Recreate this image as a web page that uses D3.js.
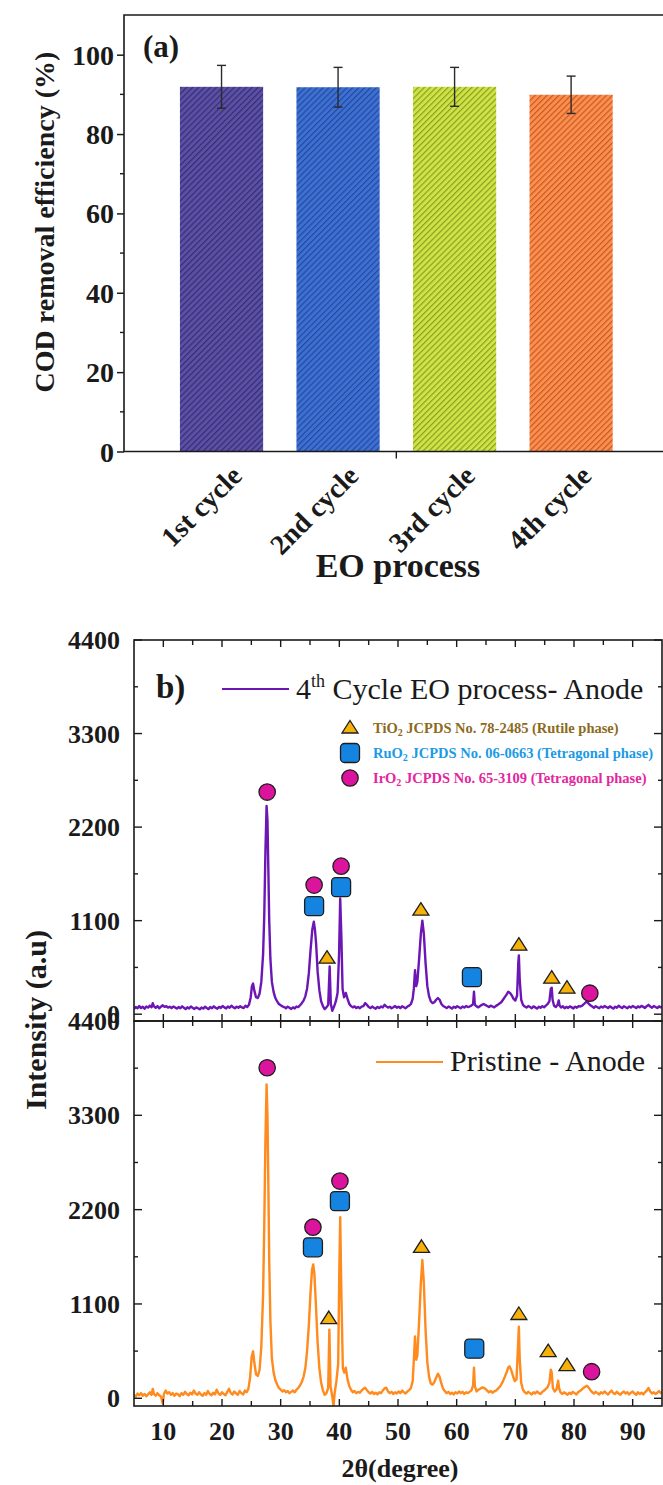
<!DOCTYPE html>
<html><head><meta charset="utf-8">
<script src="https://cdn.jsdelivr.net/npm/d3@7"></script>
<style>html,body{margin:0;padding:0;background:#fff}svg{display:block}</style>
</head><body>
<svg id="fig" width="663" height="1485"></svg>
<script>
// ---------- (a) COD removal over repeated EO cycles ----------
const cycleLabels = ["1st cycle", "2nd cycle", "3rd cycle", "4th cycle"];
const codRemoval = [91.9, 91.8, 91.9, 89.9];
const codError = [5.4, 5.0, 4.9, 4.7];
const barColors = ["#5b4fa6", "#3e70d4", "#cfe247", "#ff8d4e"];
const hatchColors = ["#302768", "#1d4392", "#7d9417", "#b5531c"];
const codTicks = [0, 20, 40, 60, 80, 100];
const codMinorTicks = [10, 30, 50, 70, 90];

// ---------- (b) XRD patterns: [2θ, intensity] ----------
const angleTicks = [10, 20, 30, 40, 50, 60, 70, 80, 90];
const angleMinorTicks = [15, 25, 35, 45, 55, 65, 75, 85];
const intensityTicks = [0, 1100, 2200, 3300, 4400];
const intensityMinorTicks = [550, 1650, 2750, 3850];

const cycle4Pattern = [
 [5.0,60],[5.3,85],[5.6,70],[5.9,95],[6.2,72],[6.5,88],[6.8,64],[7.1,90],[7.4,78],[7.7,100],[8.0,82],[8.2,130],[8.4,92],[8.7,75],[9.0,96],[9.3,70],[9.6,88],[9.9,105],
 [10.2,86],[10.5,94],[10.8,78],[11.1,88],[11.4,72],[11.7,90],[12.0,80],[12.3,66],[12.6,84],[12.9,70],[13.2,92],[13.5,76],[13.8,60],[14.1,82],[14.4,68],[14.7,90],
 [15.0,74],[15.3,62],[15.6,80],[15.9,70],[16.2,58],[16.5,78],[16.8,66],[17.1,88],[17.4,72],[17.7,60],[18.0,84],[18.3,70],[18.6,92],[18.9,76],[19.2,64],[19.5,86],
 [19.8,74],[20.1,96],[20.4,80],[20.7,68],[21.0,90],[21.3,76],[21.6,100],[21.9,82],[22.2,70],[22.5,88],[22.8,76],[23.1,94],[23.4,80],[23.7,72],[24.0,98],[24.3,84],
 [24.6,110],[24.9,200],[25.1,330],[25.3,360],[25.5,280],[25.8,200],[26.1,190],[26.4,240],[26.7,380],[27.0,700],[27.2,1150],[27.4,1900],[27.6,2450],[27.75,2280],
 [27.9,1700],[28.05,1100],[28.25,650],[28.5,380],[28.8,260],[29.1,190],[29.4,150],[29.7,120],[30.0,105],[30.3,92],[30.6,84],[30.9,70],[31.2,88],[31.5,76],
 [31.8,62],[32.1,80],[32.4,68],[32.7,90],[33.0,84],[33.3,105],[33.6,130],[33.9,160],[34.2,210],[34.5,300],[34.8,480],[35.1,760],[35.4,1000],[35.65,1088],
 [35.85,990],[36.05,820],[36.3,500],[36.6,280],[36.9,150],[37.2,96],[37.5,60],[37.8,80],[38.1,110],[38.35,560],[38.55,120],[38.8,40],[39.1,90],[39.4,150],
 [39.7,250],[39.95,700],[40.15,1360],[40.35,900],[40.55,300],[40.8,200],[41.1,250],[41.4,180],[41.7,120],[42.0,95],[42.3,80],[42.6,92],[42.9,72],[43.2,86],
 [43.5,70],[43.8,90],[44.1,96],[44.4,130],[44.7,110],[45.0,84],[45.3,72],[45.6,90],[45.9,76],[46.2,64],[46.5,86],[46.8,72],[47.1,90],[47.4,80],[47.7,110],
 [48.0,92],[48.3,78],[48.6,88],[48.9,70],[49.2,82],[49.5,96],[49.8,76],[50.1,88],[50.4,72],[50.7,94],[51.0,82],[51.3,70],[51.6,90],[51.9,100],[52.2,120],
 [52.5,180],[52.7,300],[52.9,516],[53.1,330],[53.3,380],[53.6,650],[53.9,950],[54.15,1100],[54.4,950],[54.7,600],[55.0,330],[55.3,210],[55.6,150],[55.9,130],
 [56.2,140],[56.5,170],[56.8,190],[57.1,170],[57.4,120],[57.7,96],[58.0,84],[58.3,72],[58.6,90],[58.9,80],[59.2,66],[59.5,88],[59.8,76],[60.1,94],[60.4,82],
 [60.7,70],[61.0,90],[61.3,78],[61.6,96],[61.9,84],[62.2,90],[62.5,100],[62.8,120],[62.95,264],[63.1,110],[63.4,92],[63.7,80],[64.0,96],[64.3,110],[64.6,120],
 [64.9,108],[65.2,96],[65.5,84],[65.8,100],[66.1,90],[66.4,80],[66.7,98],[67.0,110],[67.3,126],[67.6,140],[67.9,170],[68.2,200],[68.5,230],[68.8,264],
 [69.1,250],[69.4,220],[69.7,180],[70.0,160],[70.3,220],[70.5,600],[70.6,692],[70.75,400],[71.0,170],[71.3,110],[71.6,90],[71.9,78],[72.2,96],[72.5,84],
 [72.8,70],[73.1,92],[73.4,80],[73.7,66],[74.0,88],[74.3,76],[74.6,94],[74.9,82],[75.2,100],[75.5,120],[75.8,150],[76.05,300],[76.2,311],[76.35,170],[76.6,100],
 [76.9,84],[77.2,110],[77.4,162],[77.55,100],[77.8,80],[78.1,94],[78.4,70],[78.7,86],[79.0,74],[79.3,92],[79.6,80],[79.9,68],[80.2,88],[80.5,76],[80.8,96],
 [81.1,90],[81.4,100],[81.7,120],[82.0,140],[82.2,147],[82.5,125],[82.8,104],[83.1,90],[83.4,76],[83.7,94],[84.0,82],[84.3,70],[84.6,90],[84.9,78],[85.2,96],
 [85.5,84],[85.8,72],[86.1,92],[86.4,80],[86.7,66],[87.0,88],[87.3,76],[87.6,100],[87.9,84],[88.2,72],[88.5,94],[88.8,82],[89.1,70],[89.4,90],[89.7,78],
 [90.0,96],[90.3,84],[90.6,72],[90.9,92],[91.2,80],[91.5,98],[91.8,86],[92.1,74],[92.4,94],[92.7,110],[93.0,90],[93.3,76],[93.6,96],[93.9,84],[94.2,72],
 [94.5,92],[94.8,80],[95.0,88]
];

const pristinePattern = [
 [5.0,40],[5.3,20],[5.6,55],[5.9,35],[6.2,60],[6.5,30],[6.8,50],[7.1,25],[7.4,45],[7.7,70],[8.0,40],[8.2,110],[8.4,50],[8.7,30],[9.0,60],[9.3,35],[9.6,20],
 [9.9,-60],[10.1,50],[10.4,90],[10.7,55],[11.0,70],[11.3,40],[11.6,60],[11.9,30],[12.2,55],[12.5,45],[12.8,25],[13.1,60],[13.4,40],[13.7,75],[14.0,50],
 [14.3,35],[14.6,65],[14.9,45],[15.2,90],[15.5,55],[15.8,40],[16.1,70],[16.4,45],[16.7,30],[17.0,60],[17.3,40],[17.6,85],[17.9,50],[18.2,35],[18.5,65],
 [18.8,45],[19.1,100],[19.4,55],[19.7,40],[20.0,70],[20.3,50],[20.6,35],[20.9,75],[21.2,110],[21.5,60],[21.8,45],[22.1,80],[22.4,55],[22.7,40],[23.0,85],
 [23.3,60],[23.6,45],[23.9,90],[24.2,70],[24.5,110],[24.8,250],[25.05,480],[25.3,548],[25.5,420],[25.8,280],[26.1,260],[26.4,330],[26.7,600],[27.0,1200],
 [27.2,2000],[27.4,3000],[27.6,3660],[27.75,3300],[27.9,2500],[28.05,1600],[28.25,900],[28.5,470],[28.8,300],[29.1,210],[29.4,160],[29.7,120],[30.0,100],
 [30.3,80],[30.6,95],[30.9,70],[31.2,85],[31.5,60],[31.8,75],[32.1,90],[32.4,70],[32.7,100],[33.0,120],[33.3,150],[33.6,190],[33.9,250],[34.2,350],[34.5,550],
 [34.8,850],[35.1,1250],[35.35,1500],[35.55,1562],[35.75,1450],[36.0,1100],[36.3,650],[36.6,350],[36.9,180],[37.2,90],[37.5,40],[37.8,60],[38.1,120],
 [38.3,801],[38.5,140],[38.8,20],[39.0,-96],[39.2,60],[39.5,200],[39.8,400],[40.0,1500],[40.15,2112],[40.35,1200],[40.6,350],[40.85,300],[41.1,357],
 [41.4,220],[41.7,140],[42.0,100],[42.3,70],[42.6,85],[42.9,60],[43.2,75],[43.5,65],[43.8,90],[44.1,110],[44.4,123],[44.7,95],[45.0,70],[45.3,55],[45.6,75],
 [45.9,50],[46.2,65],[46.5,45],[46.8,70],[47.1,60],[47.4,90],[47.7,115],[48.0,123],[48.3,80],[48.6,60],[48.9,75],[49.2,50],[49.5,70],[49.8,55],[50.1,80],
 [50.4,60],[50.7,90],[51.0,70],[51.3,55],[51.6,80],[51.9,95],[52.2,120],[52.5,200],[52.7,450],[52.9,720],[53.1,450],[53.3,500],[53.6,900],[53.9,1350],
 [54.15,1612],[54.4,1350],[54.7,800],[55.0,420],[55.3,250],[55.6,170],[55.9,160],[56.2,190],[56.5,240],[56.8,287],[57.1,250],[57.4,170],[57.7,110],[58.0,80],
 [58.3,60],[58.6,75],[58.9,50],[59.2,65],[59.5,45],[59.8,70],[60.1,55],[60.4,80],[60.7,60],[61.0,75],[61.3,50],[61.6,70],[61.9,60],[62.2,75],[62.5,90],
 [62.8,150],[62.95,357],[63.1,140],[63.4,80],[63.7,100],[64.0,110],[64.3,125],[64.6,123],[64.9,110],[65.2,90],[65.5,70],[65.8,85],[66.1,65],[66.4,80],
 [66.7,90],[67.0,110],[67.3,130],[67.6,160],[67.9,200],[68.2,250],[68.5,300],[68.8,360],[69.0,372],[69.3,330],[69.6,260],[69.9,200],[70.2,220],[70.45,600],
 [70.6,836],[70.75,450],[71.0,180],[71.3,100],[71.6,70],[71.9,55],[72.2,75],[72.5,60],[72.8,45],[73.1,70],[73.4,55],[73.7,80],[74.0,60],[74.3,50],[74.6,75],
 [74.9,90],[75.2,110],[75.5,130],[75.8,180],[76.05,333],[76.2,300],[76.4,120],[76.7,80],[77.0,100],[77.3,205],[77.45,120],[77.7,70],[78.0,50],[78.3,70],
 [78.6,55],[78.9,40],[79.2,65],[79.5,50],[79.8,75],[80.1,60],[80.4,45],[80.7,70],[81.0,85],[81.3,100],[81.6,120],[81.9,135],[82.2,146],[82.5,125],[82.8,95],
 [83.1,70],[83.4,55],[83.7,75],[84.0,60],[84.3,45],[84.6,70],[84.9,55],[85.2,80],[85.5,60],[85.8,45],[86.1,70],[86.4,90],[86.7,60],[87.0,50],[87.3,75],
 [87.6,55],[87.9,40],[88.2,65],[88.5,80],[88.8,55],[89.1,70],[89.4,45],[89.7,65],[90.0,80],[90.3,55],[90.6,40],[90.9,70],[91.2,50],[91.5,65],[91.8,45],
 [92.1,70],[92.4,90],[92.7,120],[93.0,80],[93.3,55],[93.6,70],[93.9,50],[94.2,65],[94.5,85],[94.8,60],[95.0,70]
];

// phase markers: [phase, 2θ, height]
const cycle4Markers = [
 ["IrO2",27.7,2612],["IrO2",35.7,1518],["RuO2",35.7,1270],["IrO2",40.3,1741],["RuO2",40.3,1494],
 ["TiO2",37.9,659],["TiO2",53.9,1224],["RuO2",62.6,435],["TiO2",70.6,812],["TiO2",76.2,423],
 ["TiO2",78.8,306],["IrO2",82.7,247]
];
const pristineMarkers = [
 ["IrO2",27.7,3855],["IrO2",35.5,1995],["RuO2",35.5,1761],["IrO2",40.1,2533],["RuO2",40.1,2299],
 ["TiO2",38.2,930],["TiO2",54.0,1761],["RuO2",63.0,579],["TiO2",70.6,977],["TiO2",75.6,544],
 ["TiO2",78.8,380],["IrO2",83.0,310]
];
const phaseLegend = [
 {phase:"TiO2", head:"TiO", tail:" JCPDS No. 78-2485 (Rutile phase)", color:"#8c6a1d"},
 {phase:"RuO2", head:"RuO", tail:" JCPDS No. 06-0663 (Tetragonal phase)", color:"#1b9ae6"},
 {phase:"IrO2", head:"IrO", tail:" JCPDS No. 65-3109 (Tetragonal phase)", color:"#e3279e"}
];
const seriesNames = ["Cycle EO process- Anode", "Pristine - Anode"];
const seriesColors = ["#6b16b5", "#ff8a1e"];

const SERIF = "'Liberation Serif','Times New Roman',Times,serif";
const INK = "#1a1a1a";
const svg = d3.select("#fig");
const defs = svg.append("defs");

// ================= Panel (a) =================
const xA = d3.scaleLinear().domain([0.163, 4.78]).range([124, 662]);
const yA = d3.scaleLinear().domain([0, 110]).range([451.5, 15]);
const barHalf = 0.357;

barColors.forEach((c, i) => {
  const p = defs.append("pattern").attr("id", "hatch" + i)
    .attr("patternUnits", "userSpaceOnUse").attr("width", 4.2).attr("height", 4.2)
    .attr("patternTransform", "rotate(45)");
  p.append("rect").attr("width", 4.2).attr("height", 4.2).attr("fill", c);
  p.append("line").attr("x1", 0.6).attr("y1", 0).attr("x2", 0.6).attr("y2", 4.2)
    .attr("stroke", hatchColors[i]).attr("stroke-width", 1.2).attr("stroke-opacity", 0.85);
});

const gA = svg.append("g");
gA.selectAll("rect.bar").data(codRemoval).join("rect").attr("class", "bar")
  .attr("x", (d, i) => xA(i + 1 - barHalf))
  .attr("width", (d, i) => xA(i + 1 + barHalf) - xA(i + 1 - barHalf))
  .attr("y", d => yA(d))
  .attr("height", d => yA(0) - yA(d))
  .attr("fill", (d, i) => `url(#hatch${i})`);

// error bars
const eb = gA.selectAll("g.err").data(codRemoval).join("g").attr("class", "err")
  .attr("stroke", "#2a2a2a").attr("stroke-width", 1.4);
eb.append("line").attr("x1", (d, i) => xA(i + 1)).attr("x2", (d, i) => xA(i + 1))
  .attr("y1", (d, i) => yA(d + codError[i])).attr("y2", (d, i) => yA(d - codError[i]));
eb.append("line").attr("x1", (d, i) => xA(i + 1) - 4.5).attr("x2", (d, i) => xA(i + 1) + 4.5)
  .attr("y1", (d, i) => yA(d + codError[i])).attr("y2", (d, i) => yA(d + codError[i]));
eb.append("line").attr("x1", (d, i) => xA(i + 1) - 4.5).attr("x2", (d, i) => xA(i + 1) + 4.5)
  .attr("y1", (d, i) => yA(d - codError[i])).attr("y2", (d, i) => yA(d - codError[i]));

// frame
gA.append("path").attr("fill", "none").attr("stroke", INK).attr("stroke-width", 1.6)
  .attr("d", `M${xA.range()[1] + 1},${yA(110)}H${xA.range()[0]}V${yA(0)}H${xA.range()[1] + 1}`);

// y axis ticks (outward)
const yAxisA = d3.axisLeft(yA).tickValues(codTicks).tickSize(7).tickPadding(3).tickFormat(d3.format("d"));
const gyA = gA.append("g").attr("transform", `translate(${xA.range()[0]},0)`).call(yAxisA);
gyA.select(".domain").remove();
gyA.selectAll("line").attr("stroke", INK).attr("stroke-width", 1.5);
gyA.selectAll("text").attr("font-family", SERIF).attr("font-weight", "bold")
  .attr("font-size", 28).attr("fill", INK).attr("dy", "0.34em");
gA.selectAll("line.minorA").data(codMinorTicks).join("line").attr("class", "minorA")
  .attr("x1", xA.range()[0] - 4).attr("x2", xA.range()[0])
  .attr("y1", d => yA(d)).attr("y2", d => yA(d)).attr("stroke", INK).attr("stroke-width", 1.4);

// single x tick between cycle 2 and 3
gA.append("line").attr("x1", xA(2.5)).attr("x2", xA(2.5)).attr("y1", yA(0)).attr("y2", yA(0) + 7)
  .attr("stroke", INK).attr("stroke-width", 1.4);

// rotated category labels
gA.selectAll("text.cat").data(cycleLabels).join("text").attr("class", "cat")
  .attr("transform", (d, i) => `translate(${xA(i + 1) + 22},${yA(0) + 26}) rotate(-45)`)
  .attr("text-anchor", "end").attr("font-family", SERIF).attr("font-weight", "bold")
  .attr("font-size", 28).attr("fill", INK).text(d => d);

gA.append("text").attr("x", 398).attr("y", 577).attr("text-anchor", "middle")
  .attr("font-family", SERIF).attr("font-weight", "bold").attr("font-size", 34).attr("fill", INK)
  .text("EO process");
gA.append("text").attr("transform", `translate(54,222) rotate(-90)`).attr("text-anchor", "middle")
  .attr("font-family", SERIF).attr("font-weight", "bold").attr("font-size", 28).attr("fill", INK)
  .text("COD removal efficiency (%)");
gA.append("text").attr("x", 143).attr("y", 57).attr("font-family", SERIF).attr("font-weight", "bold")
  .attr("font-size", 31).attr("fill", INK).text("(a)");

// ================= Panel (b) =================
const xB = d3.scaleLinear().domain([5, 95]).range([134, 662]);
const yTop = d3.scaleLinear().domain([-80, 4400]).range([1021, 640]);
const yBot = d3.scaleLinear().domain([-90, 4400]).range([1406, 1021]);
const gB = svg.append("g");

defs.append("clipPath").attr("id", "clipTop").append("rect")
  .attr("x", 134).attr("y", 640).attr("width", 528).attr("height", 381);
defs.append("clipPath").attr("id", "clipBot").append("rect")
  .attr("x", 134).attr("y", 1021).attr("width", 528).attr("height", 385);

function marker(g, phase, x, y) {
  const common = s => s.attr("stroke", "#1e1e1e").attr("stroke-width", 1.3);
  if (phase === "TiO2") {
    common(g.append("path").attr("d", `M${x},${y - 7.5}L${x + 8},${y + 5}L${x - 8},${y + 5}Z`).attr("fill", "#f6b10a"));
  } else if (phase === "RuO2") {
    common(g.append("rect").attr("x", x - 9.5).attr("y", y - 9.5).attr("width", 19).attr("height", 19)
      .attr("rx", 4).attr("fill", "#1583e0"));
  } else {
    common(g.append("circle").attr("cx", x).attr("cy", y).attr("r", 8.2).attr("fill", "#dc139c"));
  }
}

function pattern(data, yS, clipId, color) {
  gB.append("path").datum(data).attr("clip-path", `url(#${clipId})`)
    .attr("fill", "none").attr("stroke", color).attr("stroke-width", 2.4).attr("stroke-linejoin", "round")
    .attr("d", d3.line().x(d => xB(d[0])).y(d => yS(d[1])));
}
pattern(cycle4Pattern, yTop, "clipTop", seriesColors[0]);
pattern(pristinePattern, yBot, "clipBot", seriesColors[1]);
cycle4Markers.forEach(m => marker(gB, m[0], xB(m[1]), yTop(m[2])));
pristineMarkers.forEach(m => marker(gB, m[0], xB(m[1]), yBot(m[2])));

// frames and ticks
function frame(yS) {
  const [y0, y1] = yS.range();
  gB.append("rect").attr("x", 134).attr("y", y1).attr("width", 528).attr("height", y0 - y1)
    .attr("fill", "none").attr("stroke", INK).attr("stroke-width", 1.6);
  const t = gB.append("g").attr("stroke", INK).attr("stroke-width", 1.4);
  angleTicks.concat(angleMinorTicks).forEach(a => {
    const len = angleTicks.includes(a) ? 7 : 5;
    t.append("line").attr("x1", xB(a)).attr("x2", xB(a)).attr("y1", y0).attr("y2", y0 - len);
    t.append("line").attr("x1", xB(a)).attr("x2", xB(a)).attr("y1", y1).attr("y2", y1 + len);
  });
  intensityTicks.concat(intensityMinorTicks).forEach(v => {
    const len = intensityTicks.includes(v) ? 8 : 4;
    t.append("line").attr("x1", 134).attr("x2", 134 + len).attr("y1", yS(v)).attr("y2", yS(v));
    t.append("line").attr("x1", 662).attr("x2", 662 - len).attr("y1", yS(v)).attr("y2", yS(v));
  });
  gB.selectAll(null).data(intensityTicks).join("text")
    .attr("x", 120).attr("y", v => yS(v)).attr("dy", "0.35em").attr("text-anchor", "end")
    .attr("font-family", SERIF).attr("font-weight", "bold").attr("font-size", 26).attr("fill", INK)
    .text(v => v);
}
frame(yTop);
frame(yBot);

gB.selectAll(null).data(angleTicks).join("text")
  .attr("x", a => xB(a)).attr("y", 1440).attr("text-anchor", "middle")
  .attr("font-family", SERIF).attr("font-weight", "bold").attr("font-size", 26).attr("fill", INK)
  .text(a => a);
gB.append("text").attr("x", 400).attr("y", 1477).attr("text-anchor", "middle")
  .attr("font-family", SERIF).attr("font-weight", "bold").attr("font-size", 26).attr("fill", INK)
  .text("2θ(degree)");
gB.append("text").attr("transform", "translate(46,1020) rotate(-90)").attr("text-anchor", "middle")
  .attr("font-family", SERIF).attr("font-weight", "bold").attr("font-size", 30).attr("fill", INK)
  .text("Intensity (a.u)");

// panel label and series legends
gB.append("text").attr("x", 156).attr("y", 698).attr("font-family", SERIF).attr("font-weight", "bold")
  .attr("font-size", 33).attr("fill", INK).text("b)");
gB.append("line").attr("x1", 222).attr("x2", 289).attr("y1", 689).attr("y2", 689)
  .attr("stroke", seriesColors[0]).attr("stroke-width", 2);
const lt = gB.append("text").attr("x", 296).attr("y", 699).attr("font-family", SERIF)
  .attr("font-size", 30).attr("fill", INK);
lt.append("tspan").text("4");
lt.append("tspan").attr("font-size", 18).attr("dy", -12).text("th");
lt.append("tspan").attr("dy", 12).text(" " + seriesNames[0]);

gB.append("line").attr("x1", 376).attr("x2", 443).attr("y1", 1062).attr("y2", 1062)
  .attr("stroke", seriesColors[1]).attr("stroke-width", 2);
gB.append("text").attr("x", 450).attr("y", 1071).attr("font-family", SERIF)
  .attr("font-size", 30).attr("fill", INK).text(seriesNames[1]);

// phase reference legend
phaseLegend.forEach((p, i) => {
  const y = 728 + i * 25;
  marker(gB, p.phase, 350, y);
  const t = gB.append("text").attr("x", 373).attr("y", y + 5).attr("font-family", SERIF)
    .attr("font-weight", "bold").attr("font-size", 14.5).attr("fill", p.color);
  t.append("tspan").text(p.head);
  t.append("tspan").attr("font-size", 10).attr("dy", 3).text("2");
  t.append("tspan").attr("dy", -3).text(p.tail);
});
</script>
</body></html>
